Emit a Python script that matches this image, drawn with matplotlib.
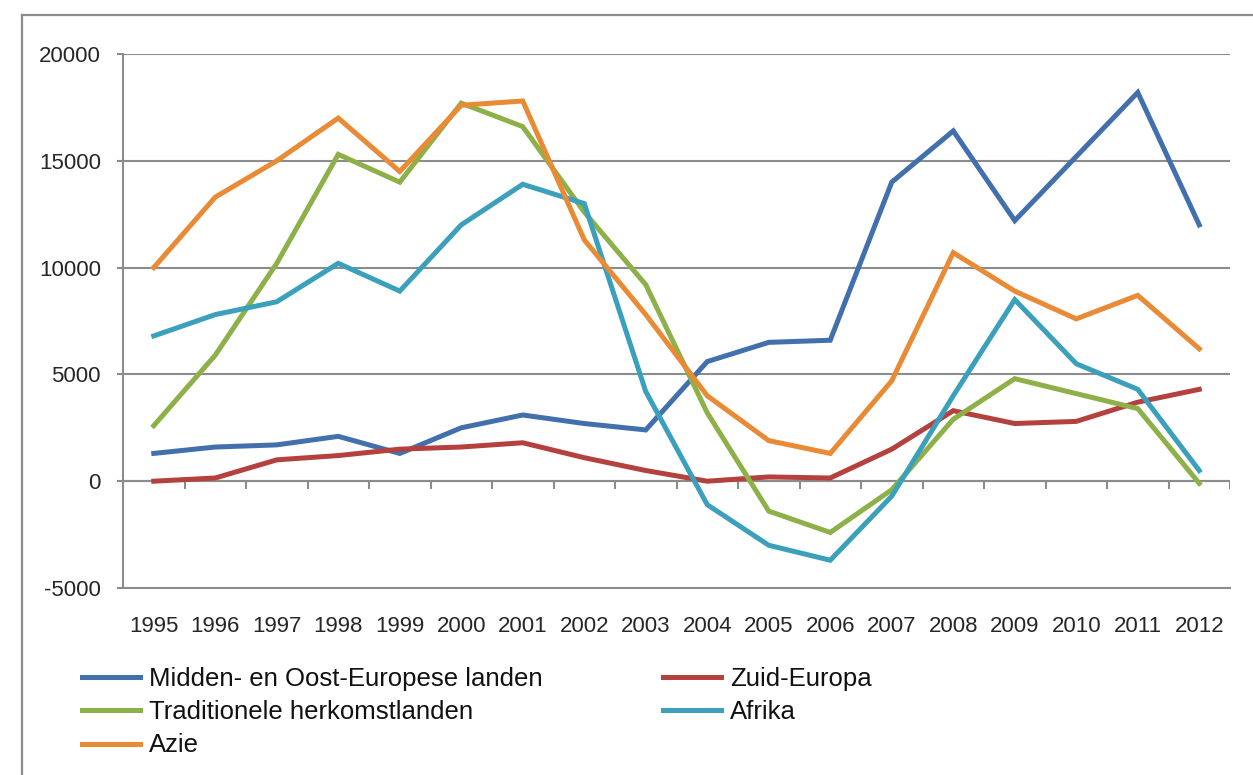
import matplotlib
matplotlib.use('Agg')
import matplotlib.pyplot as plt
from matplotlib.lines import Line2D

years = ['1995', '1996', '1997', '1998', '1999', '2000', '2001', '2002', '2003',
         '2004', '2005', '2006', '2007', '2008', '2009', '2010', '2011', '2012']

midden_oost = [1300, 1600, 1700, 2100, 1300, 2500, 3100, 2700, 2400,
               5600, 6500, 6600, 14000, 16400, 12200, 15200, 18200, 12000]
zuid_europa = [0, 150, 1000, 1200, 1500, 1600, 1800, 1100, 500,
               0, 200, 150, 1500, 3300, 2700, 2800, 3700, 4300]
traditioneel = [2600, 5900, 10200, 15300, 14000, 17700, 16600, 12600, 9200,
                3200, -1400, -2400, -400, 2900, 4800, 4100, 3400, -100]
afrika = [6800, 7800, 8400, 10200, 8900, 12000, 13900, 13000, 4200,
          -1100, -3000, -3700, -700, 4000, 8500, 5500, 4300, 500]
azie = [10000, 13300, 15000, 17000, 14500, 17600, 17800, 11300, 7800,
        4000, 1900, 1300, 4700, 10700, 8900, 7600, 8700, 6200]

series_names = ['Midden- en Oost-Europese landen', 'Zuid-Europa',
                'Traditionele herkomstlanden', 'Afrika', 'Azie']
series_values = [midden_oost, zuid_europa, traditioneel, afrika, azie]
colors = ['#4170AD', '#B5413F', '#8DB048', '#3AA0BC', '#E98A35']

yticks = [-5000, 0, 5000, 10000, 15000, 20000]

W, H = 1253, 775
fig = plt.figure(figsize=(W / 100, H / 100), dpi=100)
plt.rcParams['font.family'] = ['Liberation Sans', 'DejaVu Sans']

# outer chart border
fig.add_artist(Line2D([22 / W, 22 / W], [0, 1 - 15 / H], transform=fig.transFigure,
                      color='#8c8c8c', lw=1.6))
fig.add_artist(Line2D([22 / W, 1], [1 - 15 / H, 1 - 15 / H], transform=fig.transFigure,
                      color='#8c8c8c', lw=1.6))

left, right, top, bottom = 123, 1230, 54, 588
ax = fig.add_axes([left / W, 1 - bottom / H, (right - left) / W, (bottom - top) / H])

gray = '#8c8c8c'
x = list(range(len(years)))
lines = []
for name, vals, c in zip(series_names, series_values, colors):
    ln, = ax.plot(x, vals, color=c, lw=3.6, label=name, solid_joinstyle='miter', zorder=3)
    lines.append(ln)

ax.set_xlim(-0.5, len(years) - 0.5)
ax.set_ylim(-5000, 20000)
ax.set_yticks(yticks)
ax.set_yticklabels([str(v) for v in yticks])
ax.yaxis.grid(True, color=gray, lw=1.5)
ax.set_axisbelow(True)

for s in ['top', 'right']:
    ax.spines[s].set_visible(False)
ax.spines['left'].set_color(gray)
ax.spines['left'].set_linewidth(1.5)
ax.spines['bottom'].set_color(gray)
ax.spines['bottom'].set_linewidth(1.5)

ax.tick_params(axis='y', length=4, color=gray, width=1.5, pad=12,
               labelsize=16, labelcolor='#262626')
ax.set_xticks(x)
ax.set_xticklabels(years)
ax.tick_params(axis='x', length=0, pad=20, labelsize=16, labelcolor='#262626')

# category axis at zero with tick marks between categories
ax.axhline(0, color=gray, lw=1.5, zorder=2)
bounds = [i - 0.5 for i in range(len(years) + 1)]
ax.vlines(bounds, -380, 0, color=gray, lw=1.5, zorder=2)

leg_kw = dict(frameon=False, fontsize=18.5, handlelength=2.25, handletextpad=0.35,
              labelspacing=0.36, borderpad=0, borderaxespad=0, labelcolor='#111111')
order1 = [lines[0], lines[2], lines[4]]
order2 = [lines[1], lines[3]]
fig.legend(order1, [l.get_label() for l in order1], loc='upper left',
           bbox_to_anchor=(82 / W, 1 - 667 / H), **leg_kw)
fig.legend(order2, [l.get_label() for l in order2], loc='upper left',
           bbox_to_anchor=(663 / W, 1 - 667 / H), **leg_kw)

fig.savefig('out.png', dpi=100)
